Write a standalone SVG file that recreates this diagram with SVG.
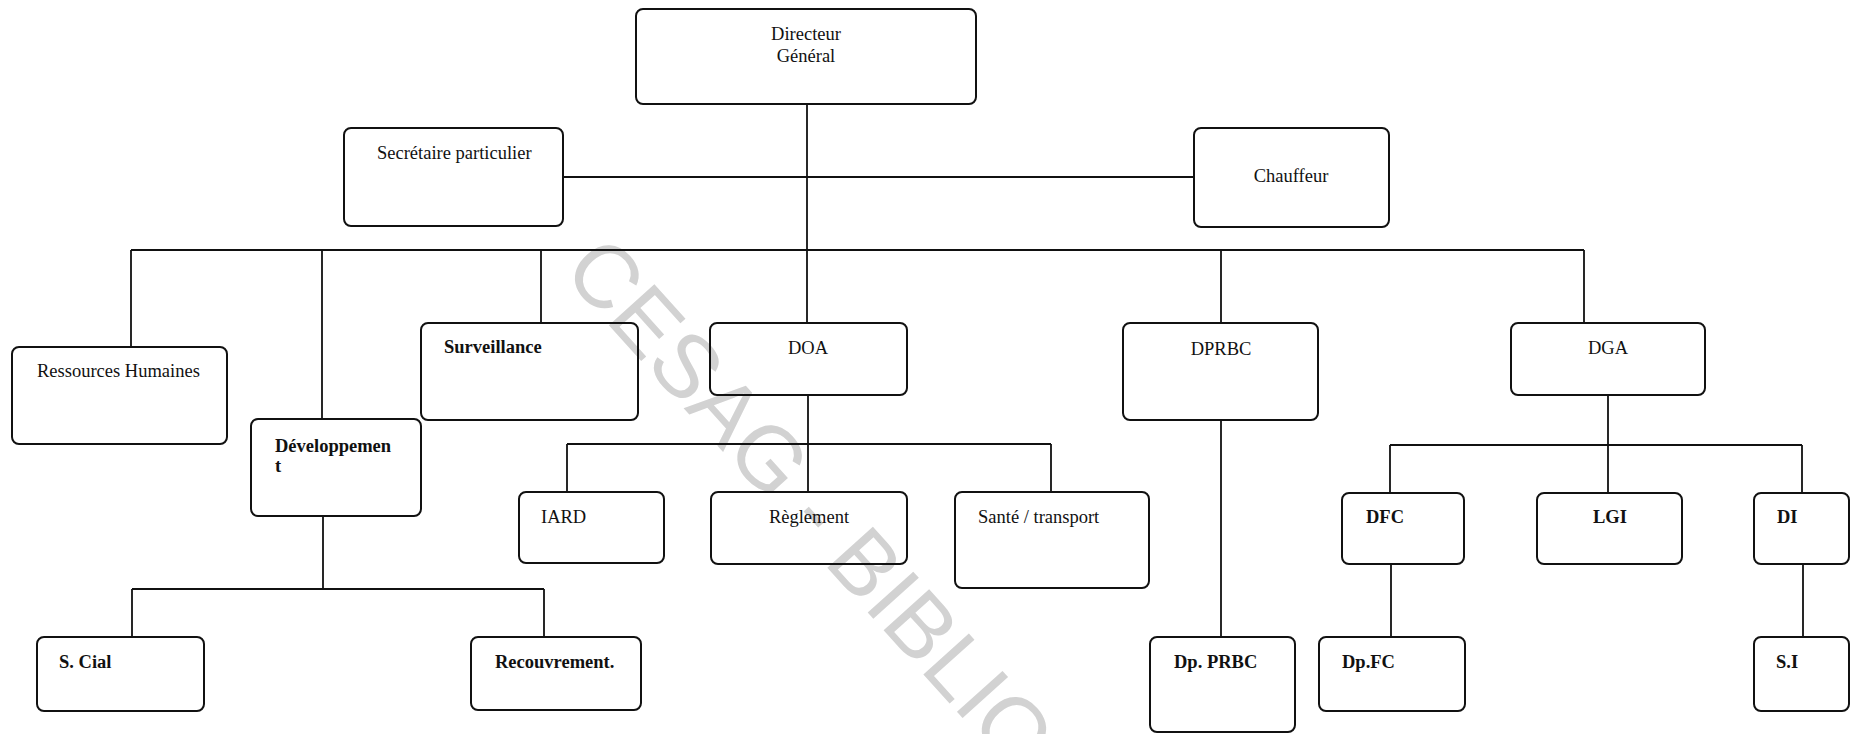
<svg xmlns="http://www.w3.org/2000/svg" width="1851" height="734" viewBox="0 0 1851 734">
<style>
.bg{fill:#ffffff}
.box{fill:none;stroke:#111;stroke-width:2}
.ln{fill:none;stroke:#111;stroke-width:1.8}
.t{font-family:"Liberation Serif","Times New Roman",serif;font-size:18.5px;fill:#111}
.b{font-weight:bold}
.c{text-anchor:middle}
.wm{font-family:"Liberation Sans",Arial,sans-serif;font-size:89px;fill:#d2d2d2}
</style>
<rect class="bg" x="0" y="0" width="1851" height="734"/>
<text class="wm" transform="translate(561,272) rotate(48)">CESAG - BIBLIOT</text>
<g id="connectors">
<path class="ln" d="M807 104V323"/>
<path class="ln" d="M563 177H1194"/>
<path class="ln" d="M131 250H1584"/>
<path class="ln" d="M131 250V347M322 250V419M541 250V323M1221 250V323M1584 250V323"/>
<path class="ln" d="M808 395V492M567 444H1051M567 444V492M1051 444V492"/>
<path class="ln" d="M323 516V589M132 589H544M132 589V637M544 589V637"/>
<path class="ln" d="M1221 420V637"/>
<path class="ln" d="M1608 395V493M1390 445H1802M1390 445V493M1802 445V493"/>
<path class="ln" d="M1391 564V637M1803 564V637"/>
</g>
<g id="dg"><rect class="box" x="636" y="9" width="340" height="95" rx="7"/><text class="t c" x="806" y="40">Directeur</text><text class="t c" x="806" y="62">Général</text></g>
<g id="secretaire"><rect class="box" x="344" y="128" width="219" height="98" rx="7"/><text class="t" x="377" y="159">Secrétaire particulier</text></g>
<g id="chauffeur"><rect class="box" x="1194" y="128" width="195" height="99" rx="7"/><text class="t c" x="1291" y="182">Chauffeur</text></g>
<g id="rh"><rect class="box" x="12" y="347" width="215" height="97" rx="7"/><text class="t" x="37" y="377">Ressources Humaines</text></g>
<g id="dev"><rect class="box" x="251" y="419" width="170" height="97" rx="7"/><text class="t b" x="275" y="452">Développemen</text><text class="t b" x="275" y="472">t</text></g>
<g id="surv"><rect class="box" x="421" y="323" width="217" height="97" rx="7"/><text class="t b" x="444" y="353">Surveillance</text></g>
<g id="doa"><rect class="box" x="710" y="323" width="197" height="72" rx="7"/><text class="t c" x="808" y="354">DOA</text></g>
<g id="dprbc"><rect class="box" x="1123" y="323" width="195" height="97" rx="7"/><text class="t c" x="1221" y="355">DPRBC</text></g>
<g id="dga"><rect class="box" x="1511" y="323" width="194" height="72" rx="7"/><text class="t c" x="1608" y="354">DGA</text></g>
<g id="iard"><rect class="box" x="519" y="492" width="145" height="71" rx="7"/><text class="t" x="541" y="523">IARD</text></g>
<g id="reglement"><rect class="box" x="711" y="492" width="196" height="72" rx="7"/><text class="t c" x="809" y="523">Règlement</text></g>
<g id="sante"><rect class="box" x="955" y="492" width="194" height="96" rx="7"/><text class="t" x="978" y="523">Santé / transport</text></g>
<g id="dfc"><rect class="box" x="1342" y="493" width="122" height="71" rx="7"/><text class="t b" x="1366" y="523">DFC</text></g>
<g id="lgi"><rect class="box" x="1537" y="493" width="145" height="71" rx="7"/><text class="t b c" x="1610" y="523">LGI</text></g>
<g id="di"><rect class="box" x="1754" y="493" width="95" height="71" rx="7"/><text class="t b" x="1777" y="523">DI</text></g>
<g id="scial"><rect class="box" x="37" y="637" width="167" height="74" rx="7"/><text class="t b" x="59" y="668">S. Cial</text></g>
<g id="recouvrement"><rect class="box" x="471" y="637" width="170" height="73" rx="7"/><text class="t b" x="495" y="668">Recouvrement.</text></g>
<g id="dpprbc"><rect class="box" x="1150" y="637" width="145" height="95" rx="7"/><text class="t b" x="1174" y="668">Dp. PRBC</text></g>
<g id="dpfc"><rect class="box" x="1319" y="637" width="146" height="74" rx="7"/><text class="t b" x="1342" y="668">Dp.FC</text></g>
<g id="si"><rect class="box" x="1754" y="637" width="95" height="74" rx="7"/><text class="t b" x="1776" y="668">S.I</text></g>
</svg>
